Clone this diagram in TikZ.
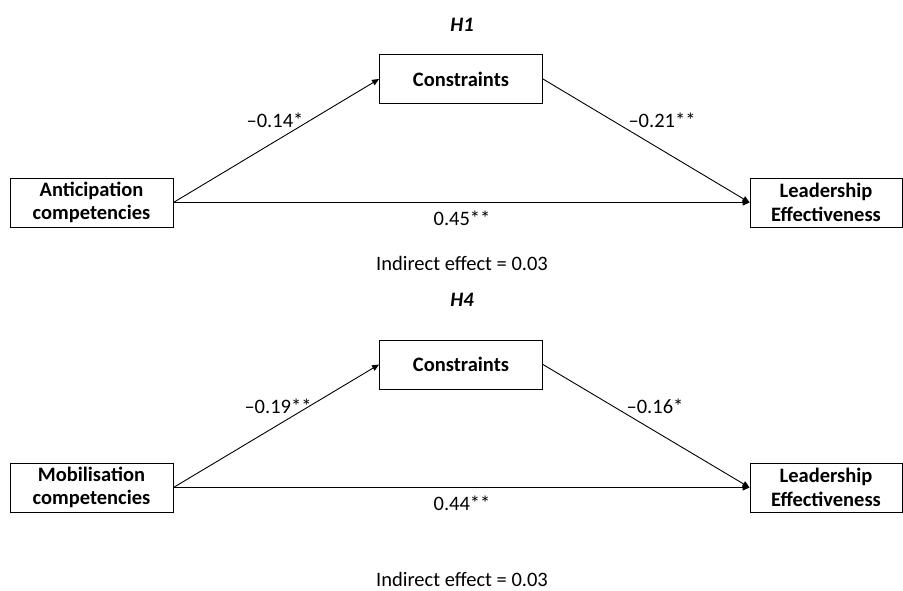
\documentclass[tikz,border=0pt]{standalone}
\usepackage{fontspec}
\usepackage{tikz}
\usepackage{xcolor}
\usetikzlibrary{arrows.meta,positioning}
\setmainfont{Carlito}
\definecolor{Ink}{HTML}{000000}

\begin{document}
\begin{tikzpicture}[x=1pt,y=-1pt,
  varbox/.style={draw=Ink,line width=0.9pt,fill=white,minimum width=163pt,minimum height=49pt,align=center,inner sep=1pt,font=\fontsize{20.5}{23.5}\selectfont\bfseries},
  coef/.style={font=\fontsize{20.5}{23}\selectfont},
  hyp/.style={font=\fontsize{20.5}{23}\selectfont\bfseries\itshape},
  arrow/.style={-{Triangle[length=7pt,width=6pt]},line width=0.9pt,draw=Ink}
]
\useasboundingbox (0,0) rectangle (903,591);
% H1
\node[hyp] (h1) at (462,25) {H1};
\node[varbox] (con1) at (461,79) {Constraints};
\node[varbox] (ant) at (91.5,202.5) {Anticipation\\competencies};
\node[varbox,minimum width=152pt] (lead1) at (826,202.5) {Leadership\\Effectiveness};
\draw[arrow] (ant.east) -- (con1.west);
\draw[arrow] (con1.east) -- (lead1.west);
\draw[arrow] (ant.east) -- (lead1.west);
\node[coef] (a1) at (275,120) {–0.14*};
\node[coef] (b1) at (662,120) {–0.21**};
\node[coef] (c1) at (462,218) {0.45**};
\node[coef] (ie1) at (462,263) {Indirect effect = 0.03};
% H4
\node[hyp] (h4) at (462,300) {H4};
\node[varbox] (con4) at (461,364.5) {Constraints};
\node[varbox] (mob) at (91.5,487.5) {Mobilisation\\competencies};
\node[varbox,minimum width=152pt] (lead4) at (826,487.5) {Leadership\\Effectiveness};
\draw[arrow] (mob.east) -- (con4.west);
\draw[arrow] (con4.east) -- (lead4.west);
\draw[arrow] (mob.east) -- (lead4.west);
\node[coef] (a4) at (278,406) {–0.19**};
\node[coef] (b4) at (655,406) {–0.16*};
\node[coef] (c4) at (462,503) {0.44**};
\node[coef] (ie4) at (462,579) {Indirect effect = 0.03};
\end{tikzpicture}
\end{document}
